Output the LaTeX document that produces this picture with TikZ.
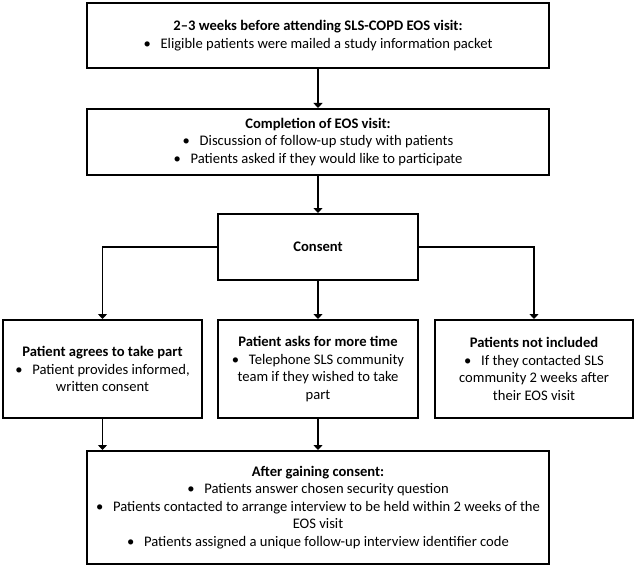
\documentclass[tikz,border=0pt]{standalone}
\usepackage{fontspec}
\setmainfont{Carlito}
\usetikzlibrary{arrows.meta}
\newcommand\bul{\makebox[17pt][l]{\textbullet}}
\begin{document}
\begin{tikzpicture}[x=1pt,y=-1pt,
  box/.style={draw=black, line width=2pt, fill=white, align=center, inner sep=0pt,
    font=\fontsize{14.6}{17.6}\selectfont},
  arr/.style={line width=1.9pt, -{Triangle[length=5pt,width=9pt]}}]
\useasboundingbox (0,0) rectangle (636,567);
\node[box, minimum width=462pt, minimum height=65pt] (b1) at (318,35.5)
  {\textbf{2–3 weeks before attending SLS-COPD EOS visit:}\\
   \bul Eligible patients were mailed a study information packet};
\node[box, minimum width=462pt, minimum height=66pt] (b2) at (318,142)
  {\textbf{Completion of EOS visit:}\\
   \bul Discussion of follow-up study with patients\\
   \bul Patients asked if they would like to participate};
\node[box, minimum width=200pt, minimum height=66pt] (cons) at (318,247)
  {\textbf{Consent}};
\node[box, minimum width=199pt, minimum height=98pt] (left) at (102.5,369)
  {\textbf{Patient agrees to take part}\\
   \bul Patient provides informed,\\
   written consent};
\node[box, minimum width=200pt, minimum height=98pt] (mid) at (318,369)
  {\textbf{Patient asks for more time}\\
   \bul Telephone SLS community\\
   team if they wished to take\\
   part};
\node[box, minimum width=198pt, minimum height=98pt] (right) at (534,369)
  {\textbf{Patients not included}\\
   \bul If they contacted SLS\\
   community 2 weeks after\\
   their EOS visit};
\node[box, minimum width=462pt, minimum height=113pt] (bot) at (318,507.5)
  {\textbf{After gaining consent:}\\
   \bul Patients answer chosen security question\\
   \bul Patients contacted to arrange interview to be held within 2 weeks of the\\
   EOS visit\\
   \bul Patients assigned a unique follow-up interview identifier code};
\draw[arr] (b1.south) -- (b2.north);
\draw[arr] (b2.south) -- (cons.north);
\draw[arr] (cons.west) -| (left.north);
\draw[arr] (cons.east) -| (right.north);
\draw[arr] (cons.south) -- (mid.north);
\draw[arr] (left.south) -- (left.south |- bot.north);
\draw[arr] (mid.south) -- (bot.north);
\end{tikzpicture}
\end{document}
